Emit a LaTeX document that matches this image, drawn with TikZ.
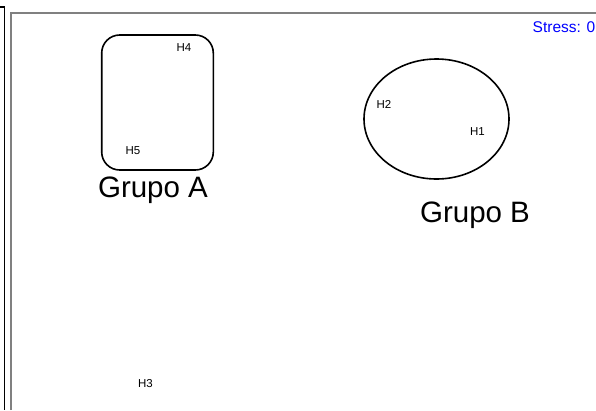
\documentclass[tikz,border=0pt]{standalone}
\usepackage{fontspec}
\setmainfont{Liberation Sans}
\usetikzlibrary{shapes.geometric}
\begin{document}
\begin{tikzpicture}[x=1pt,y=-1pt,
  lbl/.style={inner sep=0pt, font=\fontsize{11.5}{12}\selectfont},
  big/.style={inner sep=0pt, font=\fontsize{29.5}{31}\selectfont},
  grp/.style={draw=black, line width=1.6pt}]
\useasboundingbox (0,0) rectangle (596,410);
% frames
\draw[black, line width=1.3pt] (0,7) -- (4.5,7) -- (4.5,410);
\draw[gray, line width=1.3pt] (11,410) -- (11,13) -- (596,13);
% stress
\node[anchor=base east, inner sep=0pt, text=blue, font=\fontsize{15.5}{16}\selectfont] (stress) at (595.5,32) {Stress: 0};
% group A
\node[grp, rounded corners=18pt, minimum width=111.6pt, minimum height=135pt, inner sep=0pt] (ga) at (157.5,102.5) {};
\node[lbl] (h4) at (184,48) {H4};
\node[lbl] (h5) at (133,151) {H5};
\node[big, anchor=base] (gA) at (153,197) {Grupo A};
% group B
\node[grp, ellipse, minimum width=145pt, minimum height=120pt, inner sep=0pt] (gb) at (436.5,119) {};
\node[lbl] (h2) at (384,104) {H2};
\node[lbl] (h1) at (477.5,132) {H1};
\node[big, anchor=base] (gB) at (475,222) {Grupo B};
% H3
\node[lbl] (h3) at (145.5,384) {H3};
\end{tikzpicture}
\end{document}
